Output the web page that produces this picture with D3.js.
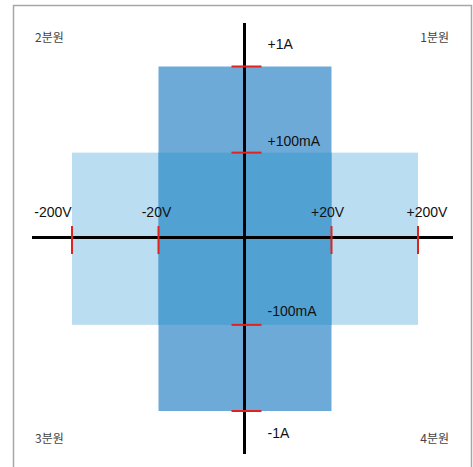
<!DOCTYPE html>
<html>
<head>
<meta charset="utf-8">
<script src="https://cdn.jsdelivr.net/npm/d3@7"></script>
<style>
  body { margin: 0; background: #fff; }
  svg { display: block; }
</style>
</head>
<body>
<svg id="chart" width="473" height="467"></svg>
<script>
// operating ranges, in "levels" on each axis (0 = origin)
const voltLevels = [-2, -1, 1, 2];
const voltLabels = ["-200V", "-20V", "+20V", "+200V"];
const currLevels = [2, 1, -1, -2];
const currLabels = ["+1A", "+100mA", "-100mA", "-1A"];

// ranges: [vMin, vMax, iMin, iMax]
const wideRange = [-2, 2, -1, 1];   // ±200V, ±100mA
const tallRange = [-1, 1, -2, 2];   // ±20V, ±1A

const quadrants = ["1분원", "2분원", "3분원", "4분원"];

// label nudges (layout only)
const voltLabelDx = [-19, -2, -4, 9];
const currLabelDy = [-18, -7, -9, 27];

const svg = d3.select("#chart");
const W = 473, H = 467;

const x = d3.scaleLinear().domain([-2, 2]).range([72, 418]);
const y = d3.scaleLinear().domain([-2, 2]).range([411, 66.5]);

// frame
svg.append("rect")
  .attr("x", 13.5).attr("y", 5.5)
  .attr("width", 458).attr("height", 480)
  .attr("fill", "none")
  .attr("stroke", "#a6a6a6")
  .attr("stroke-width", 1.5);

function rectOf(r) {
  return { x0: x(r[0]), x1: x(r[1]), y0: y(r[3]), y1: y(r[2]) };
}
const overlap = [
  Math.max(wideRange[0], tallRange[0]), Math.min(wideRange[1], tallRange[1]),
  Math.max(wideRange[2], tallRange[2]), Math.min(wideRange[3], tallRange[3])
];

const areas = [
  { r: wideRange, color: "#bbddf1" },
  { r: tallRange, color: "#6eaad7" },
  { r: overlap, color: "#51a1d3" }
];

svg.selectAll("rect.area")
  .data(areas)
  .enter().append("rect")
  .attr("class", "area")
  .attr("x", d => rectOf(d.r).x0)
  .attr("y", d => rectOf(d.r).y0)
  .attr("width", d => rectOf(d.r).x1 - rectOf(d.r).x0)
  .attr("height", d => rectOf(d.r).y1 - rectOf(d.r).y0)
  .attr("fill", d => d.color);

// axes
const x0 = x(0) - 0.5, y0 = y(0) - 1.2;
svg.append("line")
  .attr("x1", 32).attr("x2", 453)
  .attr("y1", y0).attr("y2", y0)
  .attr("stroke", "#000").attr("stroke-width", 3);
svg.append("line")
  .attr("x1", x0).attr("x2", x0)
  .attr("y1", 23).attr("y2", 454)
  .attr("stroke", "#000").attr("stroke-width", 3);

// red ticks
svg.selectAll("line.vtick")
  .data(voltLevels)
  .enter().append("line")
  .attr("class", "vtick")
  .attr("x1", d => x(d)).attr("x2", d => x(d))
  .attr("y1", y0 - 11.5).attr("y2", y0 + 16.5)
  .attr("stroke", "#e0231c").attr("stroke-width", 2);

svg.selectAll("line.itick")
  .data(currLevels)
  .enter().append("line")
  .attr("class", "itick")
  .attr("x1", x0 - 13).attr("x2", x0 + 17)
  .attr("y1", d => y(d)).attr("y2", d => y(d))
  .attr("stroke", "#e0231c").attr("stroke-width", 2);

// tick labels
const labelFont = "'Liberation Sans', Arial, sans-serif";
svg.selectAll("text.vlab")
  .data(voltLevels)
  .enter().append("text")
  .attr("class", "vlab")
  .attr("x", (d, i) => x(d) + voltLabelDx[i])
  .attr("y", y0 - 21)
  .attr("text-anchor", "middle")
  .attr("font-family", labelFont)
  .attr("font-size", 14)
  .attr("fill", "#111")
  .text((d, i) => voltLabels[i]);

svg.selectAll("text.ilab")
  .data(currLevels)
  .enter().append("text")
  .attr("class", "ilab")
  .attr("x", x0 + 23)
  .attr("y", (d, i) => y(d) + currLabelDy[i])
  .attr("font-family", labelFont)
  .attr("font-size", 14)
  .attr("fill", "#111")
  .text((d, i) => currLabels[i]);

// quadrant names
const qPos = [
  { x: 449, y: 42, anchor: "end" },
  { x: 35, y: 42, anchor: "start" },
  { x: 35, y: 443, anchor: "start" },
  { x: 449, y: 443, anchor: "end" }
];
svg.selectAll("text.quad")
  .data(quadrants)
  .enter().append("text")
  .attr("class", "quad")
  .attr("x", (d, i) => qPos[i].x)
  .attr("y", (d, i) => qPos[i].y)
  .attr("text-anchor", (d, i) => qPos[i].anchor)
  .attr("font-family", "'Noto Sans CJK KR', sans-serif")
  .attr("font-size", 12)
  .attr("fill", "#444")
  .text(d => d);
</script>
</body>
</html>
